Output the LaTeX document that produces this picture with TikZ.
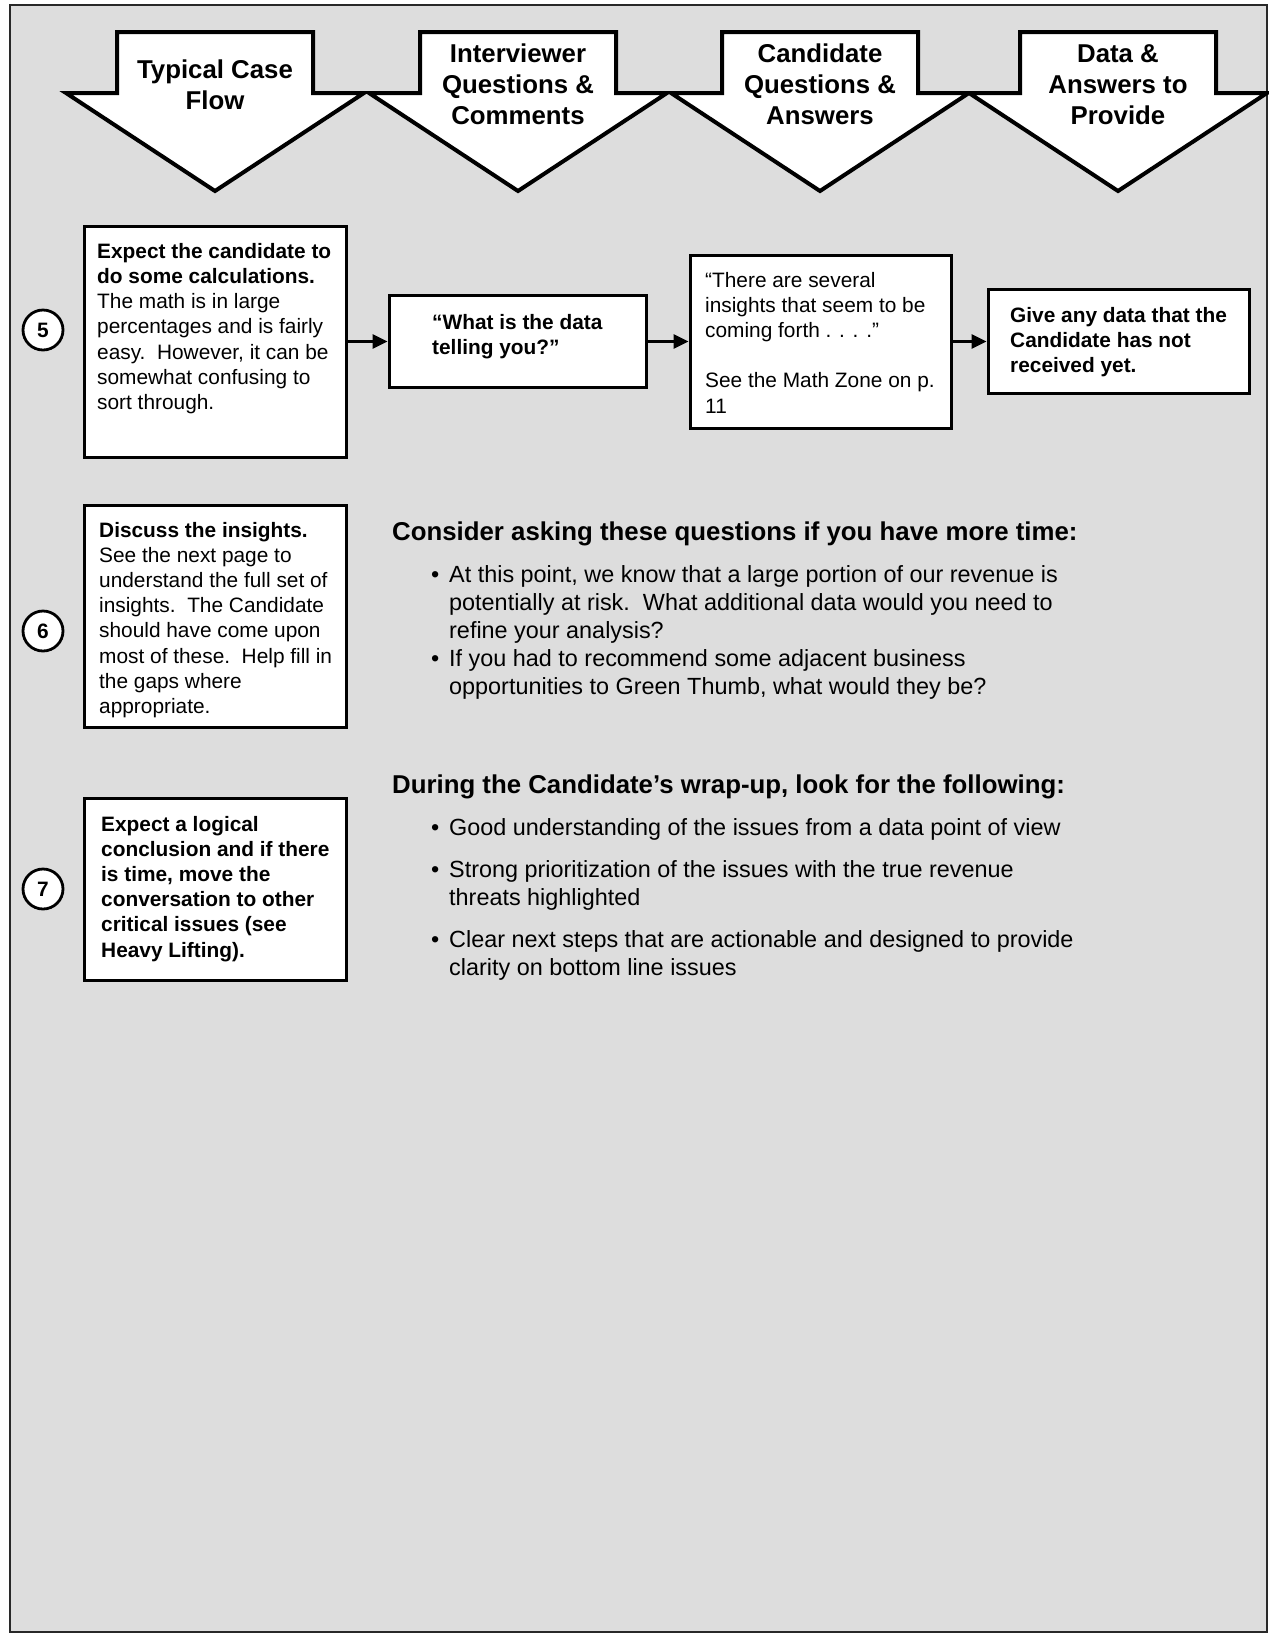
\documentclass[tikz,border=0pt]{standalone}
\usepackage{fontspec}
\setmainfont{Liberation Sans}
\usetikzlibrary{arrows.meta}
\definecolor{bg}{RGB}{221,221,221}
\definecolor{framec}{RGB}{40,40,40}
\tikzset{
  box/.style={draw, line width=3pt, fill=white, inner sep=0pt},
  numcirc/.style={draw, circle, line width=2.8pt, fill=white, minimum size=40pt, inner sep=0pt, font=\fontsize{20.85}{25}\selectfont\bfseries},
  chev/.style={draw, line width=4pt, fill=white, line join=miter},
  chevtext/.style={align=center, font=\fontsize{25.8}{31}\selectfont\bfseries, inner sep=0pt, anchor=base},
  btext/.style={align=left, font=\fontsize{20.85}{25.2}\selectfont, inner sep=0pt, anchor=base west},
  bultext/.style={align=left, font=\fontsize{23.4}{28.1}\selectfont, inner sep=0pt, anchor=base west},
  headtext/.style={font=\fontsize{25.8}{31}\selectfont\bfseries, inner sep=0pt, anchor=base west},
  arr/.style={line width=3pt, -{Triangle[length=15pt,width=14pt]}}
}
\newcommand{\bul}{\llap{•\hspace{10pt}}}
\begin{document}
\begin{tikzpicture}[x=1pt,y=-1pt]
\useasboundingbox (0,0) rectangle (1269,1634);
% frame
\draw[fill=bg, draw=framec, line width=2.5pt] (10,5) rectangle (1267,1632);

% chevrons
\foreach \c in {215,518,820,1118}{
  \draw[chev] (\c-98,32) -- (\c+98,32) -- (\c+98,93) -- (\c+149,93) -- (\c,191) -- (\c-149,93) -- (\c-98,93) -- cycle;
}
% (base anchor = baseline of the last line)
\node[chevtext] (h1) at (215,109.5) {Typical Case\\Flow};
\node[chevtext] (h2) at (518,124.5) {Interviewer\\Questions \&\\Comments};
\node[chevtext] (h3) at (820,124.5) {Candidate\\Questions \&\\Answers};
\node[chevtext] (h4) at (1118,124.5) {Data \&\\Answers to\\Provide};

% row 5
\node[numcirc] (n5) at (43,330) {5};
\node[box, minimum width=262pt, minimum height=231pt] (A) at (215,341.5) {};
\node[box, minimum width=257pt, minimum height=92pt] (B) at (517.5,341.5) {};
\node[box, minimum width=261pt, minimum height=173pt] (C) at (820.5,341.5) {};
\node[box, minimum width=261pt, minimum height=104pt] (D) at (1118.5,341.5) {};
\draw[arr] (A) -- (B);
\draw[arr] (B) -- (C);
\draw[arr] (C) -- (D);

\node[btext] (tA) at (97,409.5) {\textbf{Expect the candidate to}\\\textbf{do some calculations.}\\The math is in large\\percentages and is fairly\\easy.\ \ However, it can be\\somewhat confusing to\\sort through.};
\node[btext] (tB) at (432,354.5) {\textbf{“What is the data}\\\textbf{telling you?”}};
\node[btext] (tC) at (705,413) {“There are several\\insights that seem to be\\coming forth . . . .”\\[25.2pt]See the Math Zone on p.\\11};
\node[btext] (tD) at (1010,372.5) {\textbf{Give any data that the}\\\textbf{Candidate has not}\\\textbf{received yet.}};

% row 6
\node[numcirc] (n6) at (43,631) {6};
\node[box, minimum width=262pt, minimum height=222pt] (E) at (215,616) {};
\node[btext] (tE) at (99,713.5) {\textbf{Discuss the insights.}\\See the next page to\\understand the full set of\\insights.\ \ The Candidate\\should have come upon\\most of these.\ \ Help fill in\\the gaps where\\appropriate.};
\node[headtext] (q1) at (392,540.5) {Consider asking these questions if you have more time:};
\node[bultext] (q1a) at (449,638.2) {\bul At this point, we know that a large portion of our revenue is\\potentially at risk.\ \ What additional data would you need to\\refine your analysis?};
\node[bultext] (q1b) at (449,694.1) {\bul If you had to recommend some adjacent business\\opportunities to Green Thumb, what would they be?};

% row 7
\node[numcirc] (n7) at (43,889) {7};
\node[box, minimum width=262pt, minimum height=182pt] (F) at (215,889) {};
\node[btext] (tF) at (101,957) {\textbf{Expect a logical}\\\textbf{conclusion and if there}\\\textbf{is time, move the}\\\textbf{conversation to other}\\\textbf{critical issues (see}\\\textbf{Heavy Lifting).}};
\node[headtext] (q2) at (392,793.5) {During the Candidate’s wrap-up, look for the following:};
\node[bultext] (q2a) at (449,835) {\bul Good understanding of the issues from a data point of view};
\node[bultext] (q2b) at (449,905.1) {\bul Strong prioritization of the issues with the true revenue\\threats highlighted};
\node[bultext] (q2c) at (449,975.1) {\bul Clear next steps that are actionable and designed to provide\\clarity on bottom line issues};
\end{tikzpicture}
\end{document}
